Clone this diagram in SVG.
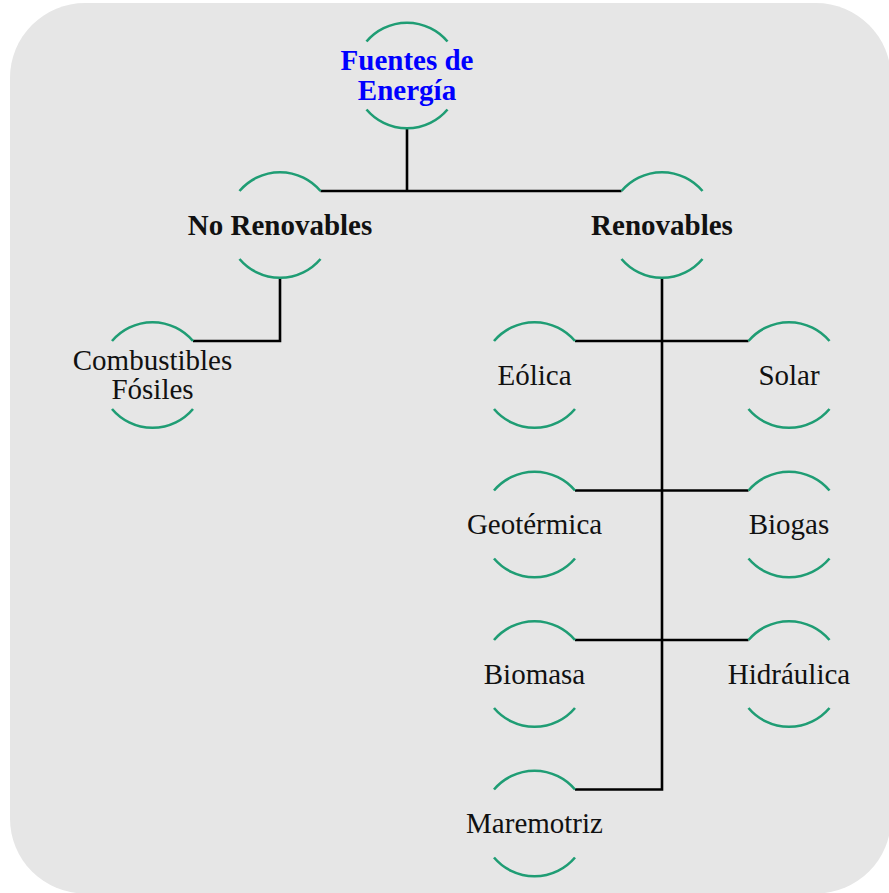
<svg xmlns="http://www.w3.org/2000/svg" xmlns:xlink="http://www.w3.org/1999/xlink" width="889" height="893" viewBox="0 0 889 893">
  <style>
    .arc { fill: none; stroke: #1f9d74; stroke-width: 2.6; }
    .conn { fill: none; stroke: #000000; stroke-width: 2.6; }
    .lbl { font-family: "Liberation Serif", "Times New Roman", serif; font-size: 29px; fill: #111111; text-anchor: middle; }
    .bold { font-weight: bold; }
    .title { fill: #0000ff; }
  </style>
  <defs>
    <g id="arcs">
      <path class="arc" d="M-40.5,-34 A53,53 0 0 1 40.5,-34"/>
      <path class="arc" d="M-40.5,34 A53,53 0 0 0 40.5,34"/>
    </g>
  </defs>
  <rect x="0" y="0" width="889" height="893" fill="#ffffff"/>
  <rect x="10" y="3" width="881" height="890.5" rx="75" ry="75" fill="#e6e6e6"/>

  <g id="connectors">
    <path class="conn" d="M407,128.5 V191"/>
    <path class="conn" d="M320.5,191 H621.5"/>
    <path class="conn" d="M280,278 V341 H193"/>
    <path class="conn" d="M662,278 V789.5 H575"/>
    <path class="conn" d="M575,341 H748.5"/>
    <path class="conn" d="M575,490.5 H748.5"/>
    <path class="conn" d="M575,640 H748.5"/>
  </g>

  <g id="fuentes" transform="translate(407,75.5)">
    <use xlink:href="#arcs"/>
    <text class="lbl bold title" x="0" y="-5.5">Fuentes de</text>
    <text class="lbl bold title" x="0" y="24">Energía</text>
  </g>
  <g id="no-renovables" transform="translate(280,225)">
    <use xlink:href="#arcs"/>
    <text class="lbl bold" x="0" y="9.5">No Renovables</text>
  </g>
  <g id="renovables" transform="translate(662,225)">
    <use xlink:href="#arcs"/>
    <text class="lbl bold" x="0" y="9.5">Renovables</text>
  </g>
  <g id="combustibles" transform="translate(152.5,375)">
    <use xlink:href="#arcs"/>
    <text class="lbl" x="0" y="-5">Combustibles</text>
    <text class="lbl" x="0" y="24">Fósiles</text>
  </g>
  <g id="eolica" transform="translate(534.5,375)">
    <use xlink:href="#arcs"/>
    <text class="lbl" x="0" y="9.5">Eólica</text>
  </g>
  <g id="solar" transform="translate(789,375)">
    <use xlink:href="#arcs"/>
    <text class="lbl" x="0" y="9.5">Solar</text>
  </g>
  <g id="geotermica" transform="translate(534.5,524.5)">
    <use xlink:href="#arcs"/>
    <text class="lbl" x="0" y="9.5">Geotérmica</text>
  </g>
  <g id="biogas" transform="translate(789,524.5)">
    <use xlink:href="#arcs"/>
    <text class="lbl" x="0" y="9.5">Biogas</text>
  </g>
  <g id="biomasa" transform="translate(534.5,674)">
    <use xlink:href="#arcs"/>
    <text class="lbl" x="0" y="9.5">Biomasa</text>
  </g>
  <g id="hidraulica" transform="translate(789,674)">
    <use xlink:href="#arcs"/>
    <text class="lbl" x="0" y="9.5">Hidráulica</text>
  </g>
  <g id="maremotriz" transform="translate(534.5,823.5)">
    <use xlink:href="#arcs"/>
    <text class="lbl" x="0" y="9.5">Maremotriz</text>
  </g>
</svg>
